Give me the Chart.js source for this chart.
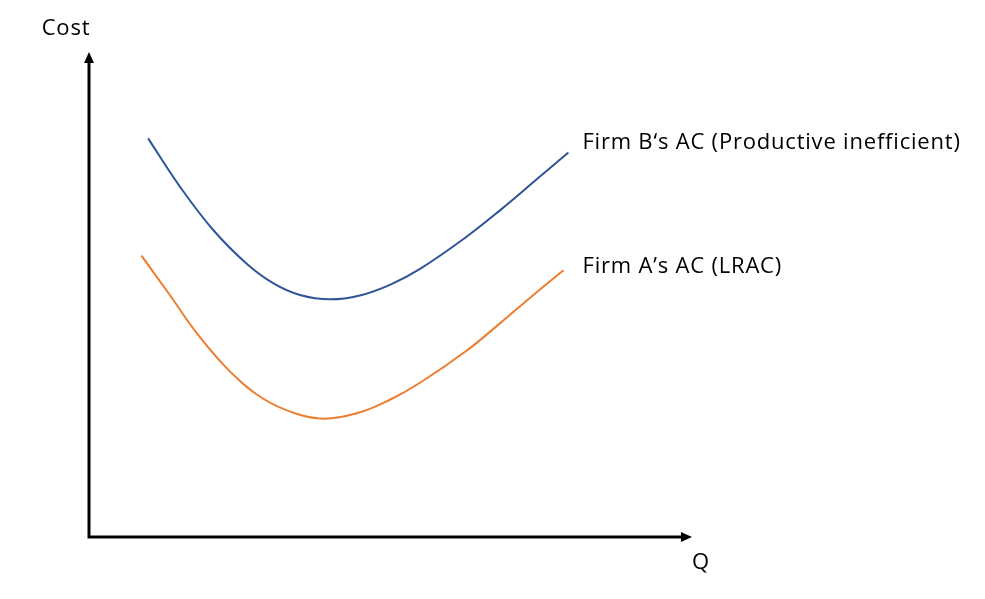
<!DOCTYPE html>
<html>
<head>
<meta charset="utf-8">
<script src="https://cdn.jsdelivr.net/npm/chart.js@4/dist/chart.umd.min.js"></script>
<style>
    html, body { margin: 0; padding: 0; background: #fff; }
    #wrap { width: 985px; height: 599px; }
</style>
</head>
<body>
<div id="wrap"><canvas id="acChart"></canvas></div>
<script>
// Firm B's AC (productive inefficient)
const firmBQ = [9.8, 15.1, 20.6, 26.2, 30.6, 35.0, 40.0, 44.9, 49.9, 54.9, 62.6, 68.2, 74.3, 79.5];
const firmBCost = [82.2, 72.2, 63.3, 56.3, 52.3, 49.9, 49.0, 49.8, 52.0, 55.3, 61.9, 67.4, 73.8, 79.3];

// Firm A's AC (LRAC)
const firmAQ = [8.7, 13.4, 17.9, 23.4, 28.9, 34.4, 38.9, 44.4, 49.9, 54.9, 62.6, 68.2, 73.7, 78.7];
const firmACost = [58.0, 49.9, 42.0, 34.1, 28.5, 25.4, 24.4, 25.5, 28.3, 31.8, 38.4, 44.1, 49.9, 55.0];

const labelB = 'Firm B\u2018s AC (Productive inefficient)';
const labelA = 'Firm A\u2019s AC (LRAC)';
const yTitle = 'Cost';
const xTitle = 'Q';

const FONT = '22px "Open Sans", sans-serif';

function toPoints(xs, ys) {
    return xs.map((x, i) => ({ x: x, y: ys[i] }));
}

// axes with arrows + text labels
const axesPlugin = {
    id: 'axesPlugin',
    afterDatasetsDraw(chart) {
        const ctx = chart.ctx;
        const a = chart.chartArea;
        ctx.save();
        ctx.strokeStyle = '#000';
        ctx.fillStyle = '#000';
        ctx.lineWidth = 3;
        ctx.beginPath();
        ctx.moveTo(a.left, a.top + 8);
        ctx.lineTo(a.left, a.bottom);
        ctx.lineTo(a.right - 8, a.bottom);
        ctx.stroke();
        // arrow heads
        ctx.beginPath();
        ctx.moveTo(a.left, a.top);
        ctx.lineTo(a.left - 5, a.top + 11);
        ctx.lineTo(a.left + 5, a.top + 11);
        ctx.closePath();
        ctx.fill();
        ctx.beginPath();
        ctx.moveTo(a.right, a.bottom);
        ctx.lineTo(a.right - 11, a.bottom - 5);
        ctx.lineTo(a.right - 11, a.bottom + 5);
        ctx.closePath();
        ctx.fill();

        ctx.font = FONT;
        ctx.letterSpacing = '0.8px';
        ctx.textBaseline = 'middle';
        ctx.textAlign = 'center';
        ctx.fillText(yTitle, a.left - 23, a.top - 23);
        ctx.fillText(xTitle, a.right + 9, a.bottom + 26);

        // curve labels next to the end of each curve
        ctx.textAlign = 'left';
        const metaB = chart.getDatasetMeta(0).data;
        const metaA = chart.getDatasetMeta(1).data;
        const endB = metaB[metaB.length - 1];
        const endA = metaA[metaA.length - 1];
        ctx.fillText(labelB, endB.x + 14, endB.y - 10);
        ctx.fillText(labelA, endA.x + 19, endA.y - 4);
        ctx.restore();
    }
};

new Chart(document.getElementById('acChart'), {
    type: 'scatter',
    data: {
        datasets: [
            {
                label: labelB,
                data: toPoints(firmBQ, firmBCost),
                showLine: true,
                borderColor: '#2F5597',
                borderWidth: 2,
                pointRadius: 0,
                tension: 0.4
            },
            {
                label: labelA,
                data: toPoints(firmAQ, firmACost),
                showLine: true,
                borderColor: '#ED7D31',
                borderWidth: 2,
                pointRadius: 0,
                tension: 0.4
            }
        ]
    },
    options: {
        responsive: true,
        maintainAspectRatio: false,
        animation: false,
        layout: {
            padding: { left: 89, right: 293, top: 52, bottom: 62 }
        },
        plugins: {
            legend: { display: false },
            tooltip: { enabled: false }
        },
        scales: {
            x: { type: 'linear', min: 0, max: 100, display: false },
            y: { type: 'linear', min: 0, max: 100, display: false }
        }
    },
    plugins: [axesPlugin]
});
</script>
</body>
</html>
